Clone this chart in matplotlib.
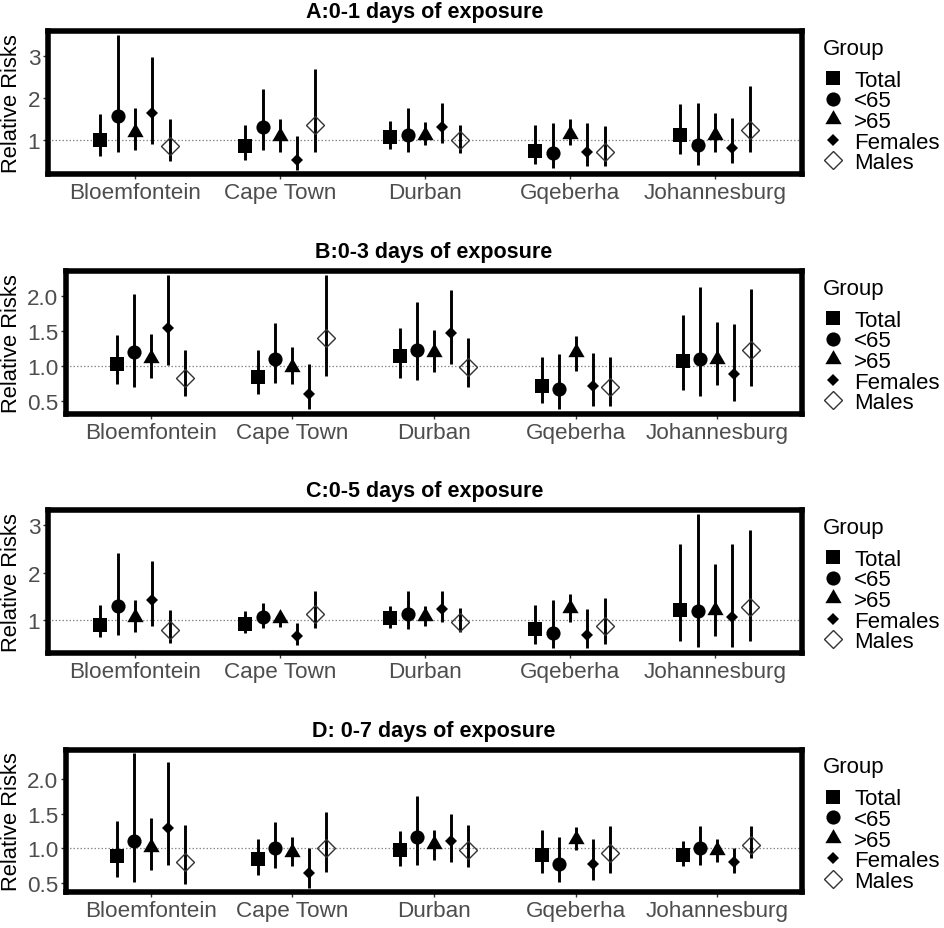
import matplotlib
matplotlib.use("Agg")
import matplotlib.pyplot as plt
from matplotlib.lines import Line2D
from matplotlib.ticker import FormatStrFormatter
import numpy as np

plt.rcParams['font.family'] = ['Liberation Sans', 'DejaVu Sans']

cities = ["Bloemfontein", "Cape Town", "Durban", "Gqeberha", "Johannesburg"]
groups = ["Total", "<65", ">65", "Females", "Males"]
titles = ["A:0-1 days of exposure", "B:0-3 days of exposure",
          "C:0-5 days of exposure", "D: 0-7 days of exposure"]

# rows: cities, columns: groups (Total, <65, >65, Females, Males)
rr_A = [[0.98, 1.56, 1.19, 1.63, 0.84],
        [0.84, 1.31, 1.08, 0.52, 1.35],
        [1.07, 1.11, 1.11, 1.31, 0.98],
        [0.74, 0.68, 1.13, 0.71, 0.70],
        [1.11, 0.86, 1.11, 0.79, 1.24]]
lo_A = [[0.62, 0.70, 0.76, 0.90, 0.48],
        [0.52, 0.76, 0.71, 0.28, 0.70],
        [0.78, 0.71, 0.86, 0.92, 0.68],
        [0.42, 0.32, 0.86, 0.38, 0.38],
        [0.66, 0.40, 0.70, 0.44, 0.70]]
hi_A = [[1.61, 3.49, 1.75, 2.98, 1.48],
        [1.36, 2.21, 1.49, 1.08, 2.68],
        [1.45, 1.75, 1.43, 1.88, 1.36],
        [1.35, 1.40, 1.48, 1.40, 1.33],
        [1.85, 1.87, 1.63, 1.51, 2.27]]

rr_B = [[1.03, 1.21, 1.12, 1.54, 0.84],
        [0.85, 1.11, 0.99, 0.61, 1.40],
        [1.15, 1.24, 1.20, 1.47, 0.99],
        [0.72, 0.67, 1.20, 0.72, 0.70],
        [1.07, 1.11, 1.11, 0.89, 1.23]]
lo_B = [[0.75, 0.70, 0.83, 1.02, 0.57],
        [0.60, 0.76, 0.75, 0.39, 0.86],
        [0.83, 0.80, 0.92, 1.03, 0.70],
        [0.47, 0.39, 0.93, 0.43, 0.43],
        [0.66, 0.57, 0.73, 0.50, 0.72]]
hi_B = [[1.45, 2.03, 1.46, 2.31, 1.24],
        [1.24, 1.62, 1.27, 1.03, 2.30],
        [1.55, 1.92, 1.52, 2.09, 1.40],
        [1.14, 1.18, 1.43, 1.19, 1.14],
        [1.73, 2.13, 1.63, 1.60, 2.11]]

rr_C = [[0.90, 1.30, 1.06, 1.41, 0.78],
        [0.92, 1.06, 1.04, 0.66, 1.13],
        [1.04, 1.13, 1.09, 1.22, 0.95],
        [0.80, 0.73, 1.25, 0.68, 0.86],
        [1.21, 1.18, 1.20, 1.06, 1.28]]
lo_C = [[0.64, 0.68, 0.74, 0.87, 0.52],
        [0.73, 0.82, 0.85, 0.47, 0.82],
        [0.82, 0.81, 0.88, 0.95, 0.74],
        [0.49, 0.40, 0.95, 0.40, 0.49],
        [0.56, 0.42, 0.65, 0.42, 0.56]]
hi_C = [[1.32, 2.41, 1.41, 2.24, 1.20],
        [1.18, 1.36, 1.14, 0.93, 1.60],
        [1.29, 1.60, 1.30, 1.60, 1.25],
        [1.32, 1.41, 1.55, 1.23, 1.46],
        [2.60, 3.23, 2.19, 2.60, 2.90]]

rr_D = [[0.89, 1.11, 1.02, 1.30, 0.80],
        [0.85, 1.00, 0.95, 0.64, 1.01],
        [0.97, 1.17, 1.06, 1.10, 0.98],
        [0.91, 0.77, 1.13, 0.78, 0.93],
        [0.91, 1.01, 0.98, 0.81, 1.05]]
lo_D = [[0.59, 0.52, 0.69, 0.76, 0.48],
        [0.62, 0.72, 0.74, 0.43, 0.66],
        [0.74, 0.76, 0.83, 0.80, 0.73],
        [0.65, 0.52, 0.97, 0.55, 0.65],
        [0.74, 0.76, 0.81, 0.64, 0.86]]
hi_D = [[1.39, 2.37, 1.44, 2.24, 1.34],
        [1.14, 1.38, 1.16, 1.00, 1.53],
        [1.25, 1.75, 1.27, 1.49, 1.34],
        [1.26, 1.16, 1.31, 1.13, 1.32],
        [1.11, 1.32, 1.13, 1.01, 1.32]]

panels = [(rr_A, lo_A, hi_A), (rr_B, lo_B, hi_B), (rr_C, lo_C, hi_C), (rr_D, lo_D, hi_D)]

# ---- styling / layout ----
W, H = 944, 929
fig = plt.figure(figsize=(W / 100, H / 100), dpi=100)
fig.patch.set_facecolor('white')

boxes = [(48, 32, 802, 175), (66, 272, 802, 415), (48, 511, 802, 654), (66, 751, 802, 893)]
ylims = [(0.18, 3.59), (0.32, 2.36), (0.30, 3.32), (0.37, 2.42)]
yticks = [[1, 2, 3], [0.5, 1.0, 1.5, 2.0], [1, 2, 3], [0.5, 1.0, 1.5, 2.0]]
yfmt = ['%d', '%.1f', '%d', '%.1f']

tri = [(0, 1), (-0.866, -0.5), (0.866, -0.5), (0, 1)]
styles = [
    dict(marker='s', ms=10, mfc='black', mec='black', mew=0),
    dict(marker='o', ms=10.2, mfc='black', mec='black', mew=0),
    dict(marker=tri, ms=13.5, mfc='black', mec='black', mew=0),
    dict(marker='D', ms=5.9, mfc='black', mec='black', mew=0),
    dict(marker='D', ms=9.0, mfc='none', mec='#333333', mew=1.0),
]
dodge = 0.6
ng = len(groups)
offsets = [(i - (ng - 1) / 2) * dodge / ng for i in range(ng)]
tick_color = '#4D4D4D'

for p, (rr, lo, hi) in enumerate(panels):
    L, T, R, B = boxes[p]
    ax = fig.add_axes([L / W, 1 - B / H, (R - L) / W, (B - T) / H])
    rr = np.array(rr); lo = np.array(lo); hi = np.array(hi)
    xc = np.arange(1, len(cities) + 1)
    ax.axhline(1.0, color='#8a8a8a', lw=0.9, ls=(0, (1.2, 1.6)), zorder=1)
    for g in range(ng):
        x = xc + offsets[g]
        ax.vlines(x, lo[:, g], hi[:, g], color='black', lw=2.1, zorder=2)
        ax.plot(x, rr[:, g], linestyle='none', zorder=3, **styles[g])
    ax.set_xlim(0.4, len(cities) + 0.6)
    ax.set_ylim(*ylims[p])
    ax.set_xticks(xc)
    ax.set_xticklabels(cities)
    ax.set_yticks(yticks[p])
    ax.yaxis.set_major_formatter(FormatStrFormatter(yfmt[p]))
    ax.tick_params(axis='both', length=3.5, width=1, color='#333333', pad=2,
                   labelsize=16.2, labelcolor=tick_color)
    for s in ax.spines.values():
        s.set_linewidth(4.0)
        s.set_color('black')
    ax.set_title(titles[p], fontsize=15.5, fontweight='bold', pad=10)
    fig.text(11.5 / W, 1 - (T + B) / 2 / H, 'Relative Risks', rotation=90,
             ha='center', va='center', fontsize=15.8)
    handles = [Line2D([], [], linestyle='none', **styles[g]) for g in range(ng)]
    leg = ax.legend(handles, groups, title='Group', loc='center left',
                    bbox_to_anchor=(1 + 21 / (R - L), 0.5 - 3 / (B - T)),
                    borderaxespad=0, borderpad=0, frameon=False, fontsize=16,
                    title_fontsize=16, handlelength=0.9, handletextpad=0.5,
                    labelspacing=-0.02, alignment='left')
    leg._legend_box.sep = 8

fig.savefig('out.png', dpi=100, facecolor='white')
